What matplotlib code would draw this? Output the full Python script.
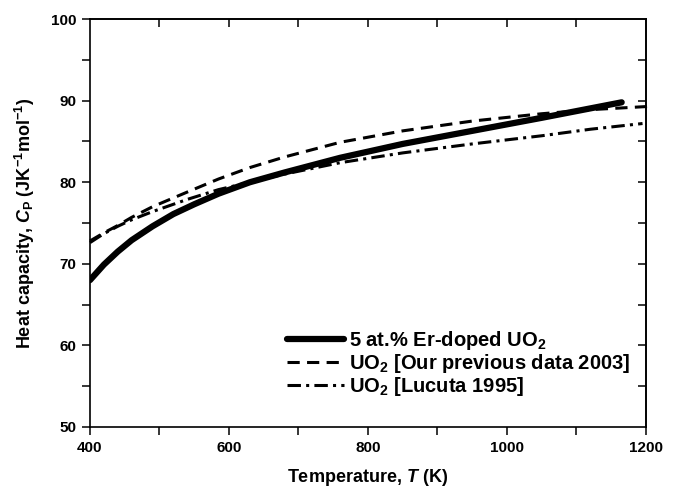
import matplotlib
matplotlib.use("Agg")
import matplotlib.pyplot as plt
from matplotlib.ticker import MultipleLocator

plt.rcParams['font.family'] = ['Liberation Sans', 'DejaVu Sans']
plt.rcParams['font.weight'] = 'bold'
plt.rcParams['mathtext.fontset'] = 'custom'
plt.rcParams['mathtext.rm'] = 'Liberation Sans:bold'
plt.rcParams['mathtext.it'] = 'Liberation Sans:italic:bold'
plt.rcParams['mathtext.bf'] = 'Liberation Sans:bold'

T_er = [400, 420, 440, 460, 490, 520, 550, 585, 630, 680, 760, 850, 950, 1050, 1165]
cp_er = [68.0, 69.9, 71.5, 72.9, 74.6, 76.1, 77.3, 78.6, 80.0, 81.2, 83.0, 84.7, 86.3, 87.9, 89.8]

T_prev = [400, 420, 440, 460, 490, 540, 585, 630, 680, 760, 850, 950, 1050, 1120, 1205]
cp_prev = [72.8, 73.8, 74.7, 75.7, 77.0, 78.8, 80.4, 81.8, 83.1, 84.9, 86.3, 87.5, 88.4, 88.9, 89.3]

T_luc = [400, 420, 440, 460, 490, 540, 585, 630, 680, 760, 850, 950, 1050, 1120, 1195]
cp_luc = [72.6, 73.7, 74.6, 75.4, 76.4, 77.9, 79.1, 80.0, 81.0, 82.4, 83.6, 84.7, 85.7, 86.5, 87.2]

labels = ['5 at.% Er-doped UO$_2$', 'UO$_2$ [Our previous data 2003]', 'UO$_2$ [Lucuta 1995]']

fig = plt.figure(figsize=(6.79, 4.90), dpi=100)
ax = fig.add_axes([0.1325, 0.1286, 0.8189, 0.8324])

ax.plot(T_er, cp_er, color='black', lw=4.5, solid_capstyle='round', solid_joinstyle='round', label=labels[0])
ax.plot(T_prev, cp_prev, color='black', lw=2.2, dashes=(4.0, 2.4), label=labels[1], clip_on=False)
ax.plot(T_luc, cp_luc, color='black', lw=2.2, dashes=(4.4, 1.7, 1.0, 1.7), label=labels[2], clip_on=False)

ax.set_xlim(400, 1200)
ax.set_ylim(50, 100)
ax.xaxis.set_major_locator(MultipleLocator(200))
ax.xaxis.set_minor_locator(MultipleLocator(100))
ax.yaxis.set_major_locator(MultipleLocator(10))
ax.yaxis.set_minor_locator(MultipleLocator(5))

for s in ax.spines.values():
    s.set_linewidth(1.2)
ax.tick_params(which='both', direction='out', length=6, width=1.1, labelsize=11,
               top=False, right=False)
ax.tick_params(axis='x', pad=4)
ax.tick_params(axis='y', pad=4)
ax2 = ax.secondary_xaxis('top')
ax2.set_xticks([500, 600, 700, 800, 900, 1000, 1100])
ax2.tick_params(direction='in', length=6, width=1.1, labeltop=False)
ax3 = ax.secondary_yaxis('right')
ax3.set_yticks([55, 60, 65, 70, 75, 80, 85, 90, 95])
ax3.tick_params(direction='in', length=6, width=1.1, labelright=False)
for a in (ax2, ax3):
    for s in a.spines.values():
        s.set_linewidth(1.2)

for lab in ax.get_xticklabels() + ax.get_yticklabels():
    lab.set_fontweight('bold')

ax.set_xlabel('Temperature, $T$ (K)', fontsize=13, fontweight='bold', labelpad=9)
ax.set_ylabel('Heat capacity, $C_\\mathrm{P}$ (JK$^{-1}$mol$^{-1}$)', fontsize=13,
              fontweight='bold', labelpad=10)

leg = ax.legend(loc='lower left', bbox_to_anchor=(0.354, 0.07), frameon=False,
                fontsize=14.5, handlelength=2.85, handletextpad=0.25, labelspacing=0.02,
                borderaxespad=0, borderpad=0)
for t in leg.get_texts():
    t.set_fontweight('bold')

fig.savefig('out.png', dpi=100)
